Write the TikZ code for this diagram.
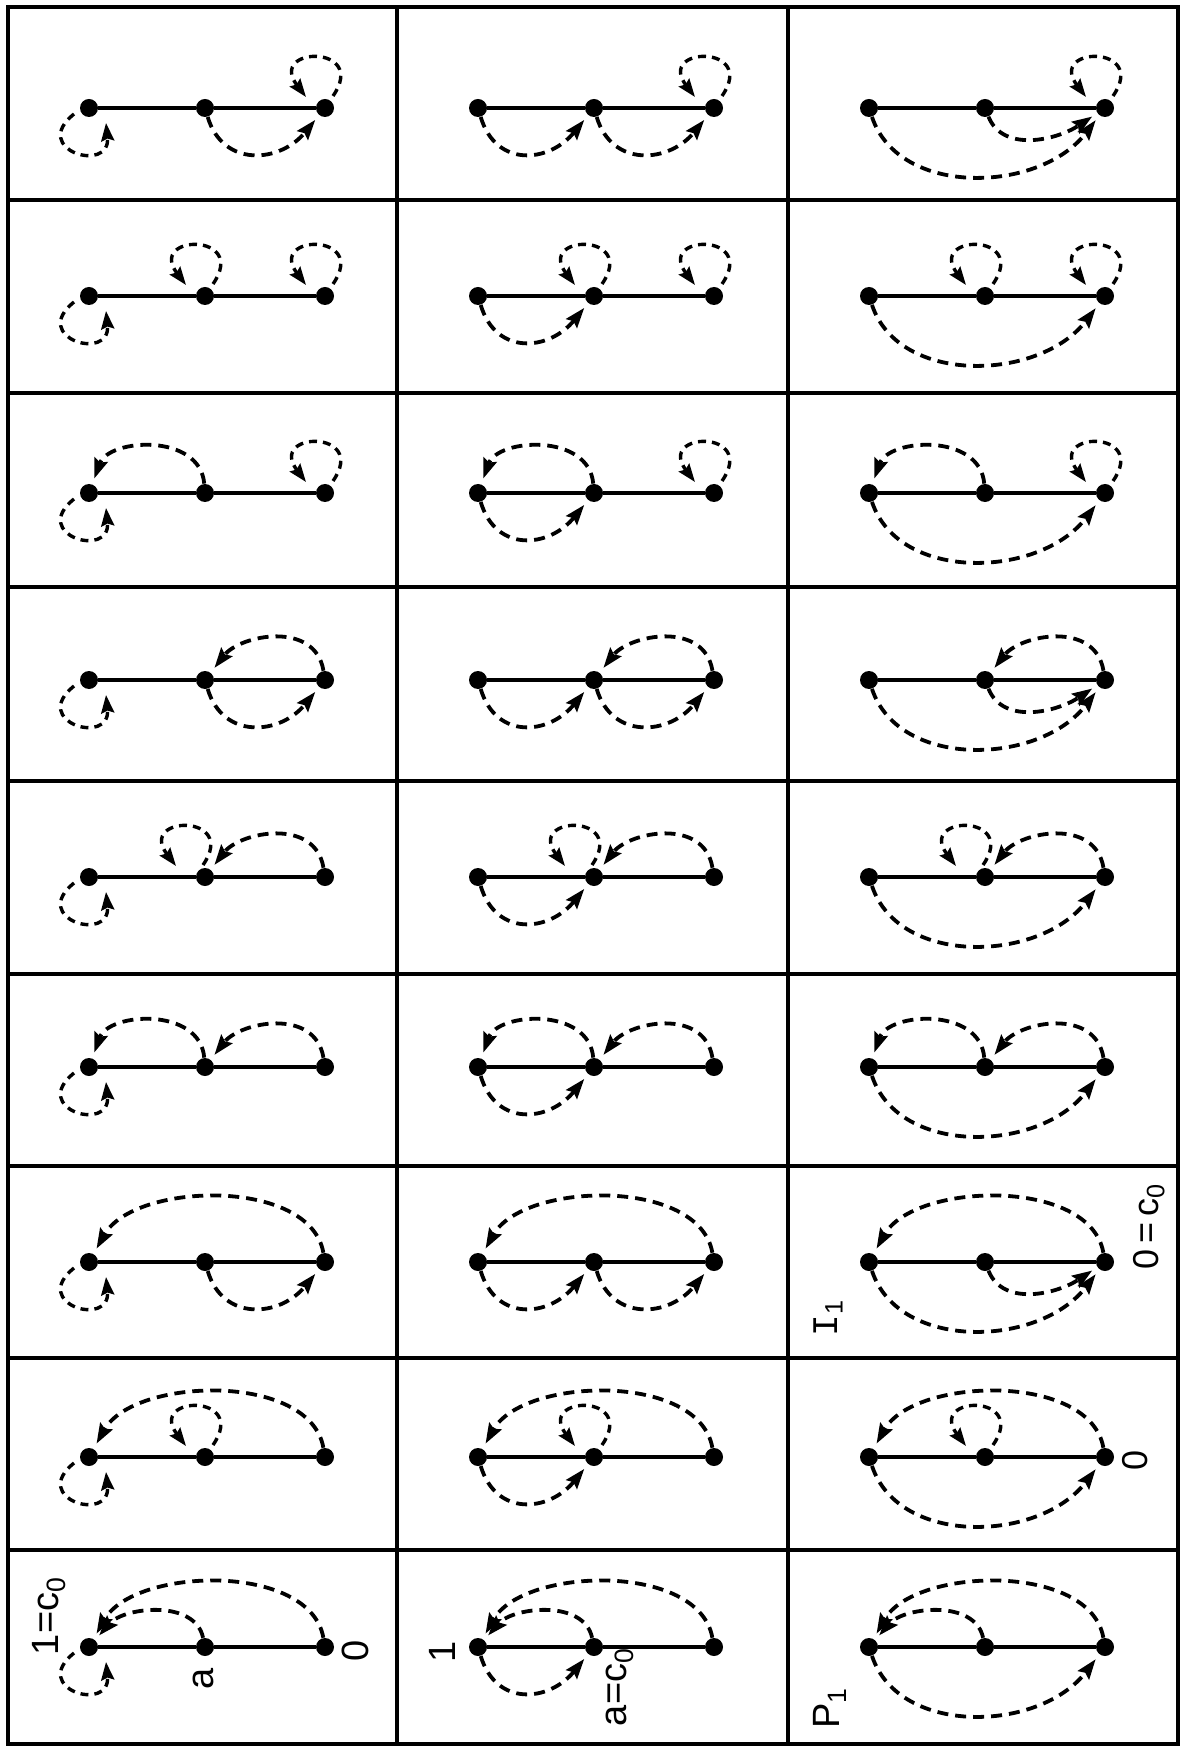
\documentclass[tikz,border=0pt]{standalone}
\usepackage{fontspec}
\setmainfont{Liberation Sans}
\newfontfamily\monofam{Liberation Mono}
\usetikzlibrary{arrows.meta}
\tikzset{
  vtx/.style={circle, fill=black, inner sep=0pt, minimum size=9pt},
  edgeline/.style={line width=2pt},
  dl/.style={line width=1.9pt, dash pattern=on 5.5pt off 3.5pt,
    -{Stealth[length=10pt,width=7pt,inset=1.5pt]}, shorten >=3pt},
  lp/.style={line width=1.7pt, dash pattern=on 4pt off 3pt,
    -{Stealth[length=9pt,width=6.5pt,inset=1.2pt]}},
  gridline/.style={line width=1.6pt},
  lblbig/.style={rotate=90, font=\fontsize{19}{19}\selectfont, inner sep=0pt},
  lblsmall/.style={rotate=90, font=\fontsize{18}{18}\selectfont, inner sep=0pt}
}
\newcommand\loopbelow[1]{\draw[lp] ([shift={(-15,-6)}]#1.center) .. controls ([shift={(-60,-42)}]#1.center) and ([shift={(22,-66)}]#1.center) .. ([shift={(17,-15)}]#1.center);}
\newcommand\loopabove[2][0]{\draw[lp] ([shift={(8+#1,12)}]#2.center) .. controls ([shift={(44+#1,64)}]#2.center) and ([shift={(-58+#1,62)}]#2.center) .. ([shift={(-19+#1,11)}]#2.center);}
\begin{document}
\begin{tikzpicture}[x=0.5pt,y=0.5pt]
\fill[white] (0,0) rectangle (1183,-1748);
\useasboundingbox (0,0) rectangle (1183,-1748);
% grid
\draw[gridline] (8,-7) rectangle (1178,-1744);
\foreach \x in {397,788} \draw[gridline] (\x,-7) -- (\x,-1744);
\foreach \y in {200,393,587,781,974,1166,1358,1550} \draw[gridline] (8,-\y) -- (1178,-\y);
% nodes
\foreach \c/\xo in {1/8,2/397,3/788} {
  \foreach \r/\yn in {1/108,2/296,3/493,4/680,5/877,6/1067,7/1262,8/1457,9/1647} {
    \node[vtx] (L\r\c) at (\xo+81,-\yn) {};
    \node[vtx] (M\r\c) at (\xo+197,-\yn) {};
    \node[vtx] (R\r\c) at (\xo+317,-\yn) {};
    \draw[edgeline] (L\r\c) -- (M\r\c) -- (R\r\c);
  }
}
% left vertex actions (by column)
\foreach \r in {1,...,9} {
  \loopbelow{L\r1}
  \draw[dl] (L\r2) .. controls +(18,-60) and +(-45,-55) .. (M\r2);
  \draw[dl] (L\r3) .. controls +(30,-90) and +(-65,-85) .. (R\r3);
}
% middle vertex actions
\foreach \r in {1,4,7} {
  \draw[dl] (M\r1) .. controls +(18,-60) and +(-45,-55) .. (R\r1);
  \draw[dl] (M\r2) .. controls +(18,-60) and +(-45,-55) .. (R\r2);
  \draw[dl] (M\r3) .. controls +(18,-45) and +(-48,-32) .. (R\r3);
}
\foreach \r in {2,8} { \foreach \c in {1,2,3} { \loopabove{M\r\c} } }
\foreach \c in {1,2,3} { \loopabove[-10]{M5\c} }
\foreach \r in {3,6} { \foreach \c in {1,2,3} {
  \draw[dl] (M\r\c) .. controls +(-5,60) and +(20,55) .. (L\r\c);
} }
\foreach \c in {1,2,3} {
  \draw[dl] (M9\c) .. controls +(-10,48) and +(35,40) .. (L9\c);
}
% right vertex actions
\foreach \r in {1,2,3} { \foreach \c in {1,2,3} { \loopabove{R\r\c} } }
\foreach \r in {4,5,6} { \foreach \c in {1,2,3} {
  \draw[dl] (R\r\c) .. controls +(-10,60) and +(35,45) .. (M\r\c);
} }
\foreach \r in {7,8,9} { \foreach \c in {1,2,3} {
  \draw[dl] (R\r\c) .. controls +(-15,85) and +(45,80) .. (L\r\c);
} }
% labels
\node[lblbig] (t1) at ([shift={(-40,31)}]L91) {1=c\textsubscript{0}};
\node[lblbig] (t2) at ([shift={(-2,-32)}]M91) {a};
\node[lblbig] (t3) at ([shift={(30,-4)}]R91) {0};
\node[lblbig] (t4) at ([shift={(-36,-5)}]L92) {1};
\node[lblbig] (t5) at ([shift={(26,-40)}]M92) {a=c\textsubscript{0}};
\node[lblbig] (t6) at ([shift={(-39,-61)}]L93) {P\textsubscript{1}};
\node[lblsmall, anchor=west] (t7) at ([shift={(44,-8)}]R73) {0\,=\,c\textsubscript{0}};
\node[lblsmall] (t8) at ([shift={(-41,-56)}]L73) {{\monofam I}\textsubscript{1}};
\node[lblsmall] (t9) at ([shift={(30,-3)}]R83) {0};
\end{tikzpicture}
\end{document}
